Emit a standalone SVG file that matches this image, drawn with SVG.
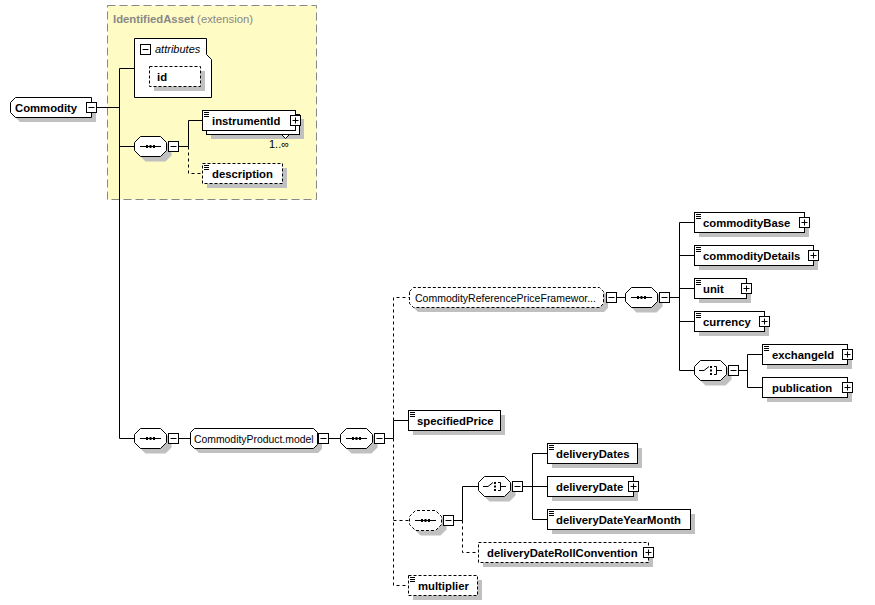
<svg xmlns="http://www.w3.org/2000/svg" width="875" height="605" viewBox="0 0 875 605">
<style>
.sh{fill:#c0c0c0;stroke:none}
.bx{fill:#fff;stroke:#000;stroke-width:1}
.dbx{fill:#fff;stroke:#000;stroke-width:1;stroke-dasharray:3 2}
.t{font-family:"Liberation Sans",Arial,sans-serif;font-size:11.3px;font-weight:bold;fill:#000}
.tn{font-family:"Liberation Sans",Arial,sans-serif;font-size:10.5px;fill:#000}
.c{stroke:#000;fill:none;stroke-width:1}
.dc{stroke:#000;fill:none;stroke-width:1;stroke-dasharray:3 3}
.ic{stroke:#000;fill:none;stroke-width:1}
</style>
<defs>
<path id="oct" d="M0.5,6.5 L6.5,0.5 H26.5 L32.5,6.5 V14.5 L26.5,20.5 H6.5 L0.5,14.5 Z"/>
<g id="minus"><rect x="0.5" y="0.5" width="10" height="10" fill="#fff" stroke="#000"/><path d="M2.5,5.5 H8.5" stroke="#000"/></g>
<g id="plus"><rect x="0.5" y="0.5" width="10" height="10" fill="#fff" stroke="#000"/><path d="M2.5,5.5 H8.5 M5.5,2.5 V8.5" stroke="#000"/></g>
<path id="lines" d="M2,2.5 H7 M2,4.5 H7 M2,6.5 H7" stroke="#000" fill="none"/>
<g id="seqIcon"><path d="M6,10.5 H27" stroke="#000"/><rect x="12" y="9" width="2" height="3" fill="#000"/><rect x="15.5" y="9" width="2" height="3" fill="#000"/><rect x="19" y="9" width="2" height="3" fill="#000"/></g>
<g id="choiceIcon"><path d="M5,10.5 H10 L15,6.5 M20,6.5 H22.5 V14.5 H20 M22.5,10.5 H28" stroke="#000" fill="none"/><rect x="16" y="6" width="2" height="2" fill="#000"/><rect x="16" y="9.5" width="2" height="2" fill="#000"/><rect x="16" y="13" width="2" height="2" fill="#000"/></g>
</defs>
<rect width="875" height="605" fill="#fff"/>

<g id="IdentifiedAsset">
<rect x="107.5" y="5.5" width="209" height="194" fill="#FFFBC4" stroke="#888" stroke-dasharray="8 4"/>
<text x="113" y="22.5" style="font-family:'Liberation Sans',Arial,sans-serif;font-size:11.3px;fill:#888"><tspan font-weight="bold">IdentifiedAsset</tspan> (extension)</text>
</g>

<g id="connectors">
<path class="c" d="M96.5,107.5 H119.5 M119.5,68.5 V438.5 M119.5,68.5 H134.5 M119.5,146.5 H134.5 M119.5,438.5 H134.5"/>
<path class="c" d="M178.5,146.5 H188.5 V120.5 H202.5"/>
<path class="dc" d="M188.5,146.5 V173.5 H202.5"/>
<path class="c" d="M178.5,438.5 H190.5 M328.5,438.5 H340.5 M384.5,438.5 H393.5 M393.5,420.5 V438.5 M393.5,420.5 H408.5"/>
<path class="dc" d="M393.5,420.5 V297.5 H409.5 M393.5,438.5 V585.5 H408.5 M393.5,520.5 H409.5"/>
<path class="c" d="M616.5,297.5 H625.5 M669.5,297.5 H679.5 M679.5,222.5 V370.5 M679.5,222.5 H694.5 M679.5,255.5 H694.5 M679.5,288.5 H694.5 M679.5,321.5 H694.5 M679.5,370.5 H694.5"/>
<path class="c" d="M738.5,370.5 H747.5 M747.5,354.5 V387.5 M747.5,354.5 H762.5 M747.5,387.5 H762.5"/>
<path class="c" d="M453.5,520.5 H462.5 V486.5 H478.5"/>
<path class="dc" d="M462.5,520.5 V552.5 H478.5"/>
<path class="c" d="M522.5,486.5 H532.5 M532.5,453.5 V519.5 M532.5,453.5 H547.5 M532.5,486.5 H547.5 M532.5,519.5 H547.5"/>
</g>

<g id="n-Commodity">
<path class="sh" d="M15,112 L20,107 H96 V122 H20 L15,117 Z"/>
<path class="bx" d="M10.5,102.5 L15.5,97.5 H91.5 V117.5 H15.5 L10.5,112.5 Z"/>
<text class="t" x="15" y="112">Commodity</text>
<use href="#minus" x="86" y="102"/>
</g>

<g id="n-attributes">
<path class="bx" d="M134.5,38.5 H206.5 V54.5 L211.5,59.5 V97.5 H134.5 Z"/>
<use href="#minus" x="140" y="44"/>
<text x="155" y="52.5" style="font-family:'Liberation Sans',Arial,sans-serif;font-size:11px;font-style:italic">attributes</text>
</g>

<g id="n-id" transform="translate(149,66)">
<rect class="sh" x="5" y="5" width="51" height="20"/>
<rect class="dbx" x="0.5" y="0.5" width="51" height="20"/>
<text class="t" x="8" y="15">id</text>
</g>

<g id="n-seq1" transform="translate(134,136)">
<use href="#oct" class="sh" x="5" y="5"/>
<use href="#oct" class="bx"/>
<use href="#seqIcon"/>
<use href="#minus" x="34" y="5"/>
</g>

<g id="n-instrumentId" transform="translate(202,110)">
<rect class="sh" x="9" y="9" width="93" height="20"/>
<rect class="bx" x="4.5" y="4.5" width="93" height="20"/>
<rect class="bx" x="0.5" y="0.5" width="93" height="20"/>
<use href="#lines"/>
<text class="t" x="10" y="15">instrumentId</text>
<use href="#plus" x="88" y="5"/>
<path class="bx" d="M79.5,24.5 H87.5 L83.5,28.5 Z"/>
</g>
<text id="occ" x="269" y="148" style="font-family:'Liberation Sans',Arial,sans-serif;font-size:11px">1..∞</text>

<g id="n-description" transform="translate(202,163)">
<rect class="sh" x="5" y="5" width="80" height="20"/>
<rect class="dbx" x="0.5" y="0.5" width="80" height="20"/>
<use href="#lines"/>
<text class="t" x="10" y="15">description</text>
</g>

<g id="n-seq2" transform="translate(134,428)">
<use href="#oct" class="sh" x="5" y="5"/>
<use href="#oct" class="bx"/>
<use href="#seqIcon"/>
<use href="#minus" x="34" y="5"/>
</g>

<g id="n-CommodityProductModel" transform="translate(190,428)">
<path class="sh" d="M5,9 L9,5 H128 L132,9 V21 L128,25 H9 L5,21 Z"/>
<path class="bx" d="M0.5,4.5 L4.5,0.5 H123.5 L127.5,4.5 V16.5 L123.5,20.5 H4.5 L0.5,16.5 Z"/>
<text class="tn" x="4" y="14.5" style="font-size:10.4px">CommodityProduct.model</text>
<use href="#minus" x="128" y="5"/>
</g>

<g id="n-seq3" transform="translate(340,428)">
<use href="#oct" class="sh" x="5" y="5"/>
<use href="#oct" class="bx"/>
<use href="#seqIcon"/>
<use href="#minus" x="34" y="5"/>
</g>

<g id="n-CRPF" transform="translate(409,287)">
<path class="sh" d="M5,9 L9,5 H195 L199,9 V21 L195,25 H9 L5,21 Z"/>
<path class="dbx" d="M0.5,4.5 L4.5,0.5 H190.5 L194.5,4.5 V16.5 L190.5,20.5 H4.5 L0.5,16.5 Z"/>
<text class="tn" x="6" y="14.5">CommodityReferencePriceFramewor...</text>
<use href="#minus" x="197" y="5"/>
</g>

<g id="n-seq4" transform="translate(625,287)">
<use href="#oct" class="sh" x="5" y="5"/>
<use href="#oct" class="bx"/>
<use href="#seqIcon"/>
<use href="#minus" x="34" y="5"/>
</g>

<g id="n-commodityBase" transform="translate(694,212)">
<rect class="sh" x="5" y="5" width="110" height="20"/>
<rect class="bx" x="0.5" y="0.5" width="110" height="20"/>
<use href="#lines"/>
<text class="t" x="9" y="15">commodityBase</text>
<use href="#plus" x="105" y="5"/>
</g>

<g id="n-commodityDetails" transform="translate(694,245)">
<rect class="sh" x="5" y="5" width="119" height="20"/>
<rect class="bx" x="0.5" y="0.5" width="119" height="20"/>
<use href="#lines"/>
<text class="t" x="9" y="15">commodityDetails</text>
<use href="#plus" x="114" y="5"/>
</g>

<g id="n-unit" transform="translate(694,278)">
<rect class="sh" x="5" y="5" width="52" height="20"/>
<rect class="bx" x="0.5" y="0.5" width="52" height="20"/>
<use href="#lines"/>
<text class="t" x="9" y="15">unit</text>
<use href="#plus" x="47" y="5"/>
</g>

<g id="n-currency" transform="translate(694,311)">
<rect class="sh" x="5" y="5" width="70" height="20"/>
<rect class="bx" x="0.5" y="0.5" width="70" height="20"/>
<use href="#lines"/>
<text class="t" x="9" y="15">currency</text>
<use href="#plus" x="65" y="5"/>
</g>

<g id="n-choice1" transform="translate(694,360)">
<use href="#oct" class="sh" x="5" y="5"/>
<use href="#oct" class="bx"/>
<use href="#choiceIcon"/>
<use href="#minus" x="34" y="5"/>
</g>

<g id="n-exchangeId" transform="translate(762,344)">
<rect class="sh" x="5" y="5" width="85" height="20"/>
<rect class="bx" x="0.5" y="0.5" width="85" height="20"/>
<use href="#lines"/>
<text class="t" x="10" y="15">exchangeId</text>
<use href="#plus" x="80" y="5"/>
</g>

<g id="n-publication" transform="translate(762,377)">
<rect class="sh" x="5" y="5" width="85" height="20"/>
<rect class="bx" x="0.5" y="0.5" width="85" height="20"/>
<text class="t" x="10" y="15">publication</text>
<use href="#plus" x="80" y="5"/>
</g>

<g id="n-specifiedPrice" transform="translate(408,410)">
<rect class="sh" x="5" y="5" width="92" height="20"/>
<rect class="bx" x="0.5" y="0.5" width="92" height="20"/>
<use href="#lines"/>
<text class="t" x="9" y="15">specifiedPrice</text>
</g>

<g id="n-seq5" transform="translate(409,510)">
<use href="#oct" class="sh" x="5" y="5"/>
<use href="#oct" class="dbx"/>
<use href="#seqIcon"/>
<use href="#minus" x="34" y="5"/>
</g>

<g id="n-choice2" transform="translate(478,476)">
<use href="#oct" class="sh" x="5" y="5"/>
<use href="#oct" class="bx"/>
<use href="#choiceIcon"/>
<use href="#minus" x="34" y="5"/>
</g>

<g id="n-deliveryDates" transform="translate(547,443)">
<rect class="sh" x="5" y="5" width="90" height="20"/>
<rect class="bx" x="0.5" y="0.5" width="90" height="20"/>
<use href="#lines"/>
<text class="t" x="9" y="15">deliveryDates</text>
</g>

<g id="n-deliveryDate" transform="translate(547,476)">
<rect class="sh" x="5" y="5" width="86" height="20"/>
<rect class="bx" x="0.5" y="0.5" width="86" height="20"/>
<text class="t" x="9" y="15">deliveryDate</text>
<use href="#plus" x="81" y="5"/>
</g>

<g id="n-deliveryDateYearMonth" transform="translate(547,509)">
<rect class="sh" x="5" y="5" width="143" height="20"/>
<rect class="bx" x="0.5" y="0.5" width="143" height="20"/>
<use href="#lines"/>
<text class="t" x="9" y="15">deliveryDateYearMonth</text>
</g>

<g id="n-deliveryDateRollConvention" transform="translate(478,542)">
<rect class="sh" x="5" y="5" width="170" height="20"/>
<rect class="dbx" x="0.5" y="0.5" width="170" height="20"/>
<text class="t" x="9" y="15">deliveryDateRollConvention</text>
<use href="#plus" x="165" y="5"/>
</g>

<g id="n-multiplier" transform="translate(408,575)">
<rect class="sh" x="5" y="5" width="69" height="20"/>
<rect class="dbx" x="0.5" y="0.5" width="69" height="20"/>
<use href="#lines"/>
<text class="t" x="10" y="15">multiplier</text>
</g>
</svg>
